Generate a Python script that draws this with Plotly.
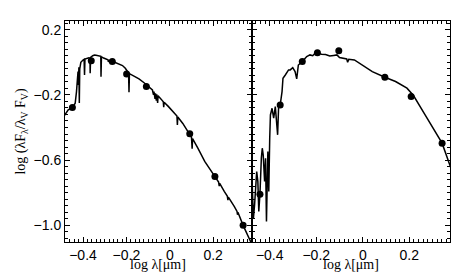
import plotly.graph_objects as go

# Left panel spectrum
left_x = [-0.486, -0.468, -0.449, -0.436, -0.430, -0.425, -0.423, -0.421, -0.419, -0.417, -0.415,
          -0.410, -0.405, -0.400, -0.395, -0.393, -0.391, -0.385, -0.373, -0.368, -0.367, -0.365,
          -0.355, -0.347, -0.340, -0.332, -0.325, -0.318, -0.317, -0.315, -0.305, -0.294, -0.285,
          -0.283, -0.280, -0.265, -0.249, -0.235, -0.218, -0.205, -0.195, -0.190, -0.188, -0.186,
          -0.165, -0.142, -0.120, -0.097, -0.080, -0.075, -0.073, -0.068, -0.066, -0.062, -0.060,
          -0.056, -0.054, -0.051, -0.040, -0.030, -0.028, -0.026, -0.006, 0.010, 0.033, 0.035,
          0.037, 0.060, 0.085, 0.092, 0.100, 0.103, 0.105, 0.130, 0.161, 0.185, 0.208, 0.225,
          0.228, 0.230, 0.251, 0.265, 0.268, 0.270, 0.297, 0.310, 0.312, 0.314, 0.338, 0.365, 0.378]
left_y = [-0.327, -0.292, -0.278, -0.251, -0.180, -0.100, -0.057, -0.140, -0.030, -0.250, -0.040,
          0.000, 0.010, 0.014, 0.018, -0.078, 0.020, 0.024, 0.028, 0.025, -0.067, 0.030,
          0.040, 0.045, 0.043, 0.041, 0.038, 0.036, -0.088, 0.034, 0.026, 0.020, 0.015,
          0.002, 0.012, 0.006, -0.002, -0.010, -0.020, -0.037, -0.057, -0.066, -0.184, -0.070,
          -0.085, -0.102, -0.124, -0.149, -0.170, -0.200, -0.180, -0.225, -0.190, -0.235, -0.197,
          -0.250, -0.205, -0.210, -0.226, -0.242, -0.275, -0.245, -0.272, -0.297, -0.330, -0.384,
          -0.336, -0.375, -0.425, -0.439, -0.460, -0.530, -0.468, -0.528, -0.608, -0.655, -0.700, -0.735,
          -0.760, -0.742, -0.792, -0.820, -0.845, -0.827, -0.884, -0.915, -0.935, -0.920, -1.000, -1.078, -1.115]
left_pts_x = [-0.449, -0.362, -0.265, -0.199, -0.108, 0.092, 0.208, 0.338]
left_pts_y = [-0.278, 0.010, 0.004, -0.072, -0.149, -0.439, -0.700, -1.000]

# Right panel spectrum
right_x = [-0.477, -0.475, -0.470, -0.465, -0.456, -0.451, -0.447, -0.442, -0.436, -0.432, -0.428,
           -0.422, -0.418, -0.414, -0.408, -0.404, -0.400, -0.397, -0.390, -0.383, -0.376, -0.366,
           -0.362, -0.355, -0.347, -0.343, -0.333, -0.319, -0.312, -0.301, -0.291, -0.284, -0.277,
           -0.260, -0.241, -0.227, -0.215, -0.205, -0.195, -0.178, -0.160, -0.150, -0.142, -0.125,
           -0.111, -0.100, -0.085, -0.069, -0.065, -0.060, -0.036, -0.001, 0.041, 0.095, 0.141,
           0.190, 0.218, 0.268, 0.324, 0.341, 0.378]
right_y = [-0.730, -0.761, -0.956, -0.874, -0.670, -0.731, -0.915, -0.809, -0.588, -0.527, -0.568,
           -0.731, -0.588, -0.976, -0.547, -0.792, -0.466, -0.323, -0.282, -0.343, -0.272, -0.445,
           -0.282, -0.262, -0.180, -0.098, -0.078, -0.047, -0.047, -0.033, -0.057, -0.102, -0.017,
           0.004, 0.035, 0.045, 0.040, 0.055, 0.059, 0.049, 0.048, 0.040, 0.038, 0.042,
           0.045, 0.029, 0.025, 0.020, 0.000, 0.018, 0.014, -0.017, -0.057, -0.092, -0.118,
           -0.159, -0.204, -0.323, -0.455, -0.496, -0.645]
right_pts_x = [-0.442, -0.355, -0.260, -0.195, -0.103, 0.095, 0.208, 0.341]
right_pts_y = [-0.809, -0.262, 0.004, 0.059, 0.071, -0.092, -0.210, -0.496]

x_title = "log \u03bb[\u03bcm]"
y_title = "log (\u03bbF<sub>\u03bb</sub>/\u03bb<sub>V</sub> F<sub>V</sub>)"

fig = go.Figure()
line_style = dict(color="black", width=1.5)
mk = dict(color="black", size=7)
fig.add_trace(go.Scatter(x=left_x, y=left_y, mode="lines", line=line_style, xaxis="x", yaxis="y"))
fig.add_trace(go.Scatter(x=left_pts_x, y=left_pts_y, mode="markers", marker=mk, xaxis="x", yaxis="y"))
fig.add_trace(go.Scatter(x=right_x, y=right_y, mode="lines", line=line_style, xaxis="x2", yaxis="y2"))
fig.add_trace(go.Scatter(x=right_pts_x, y=right_pts_y, mode="markers", marker=mk, xaxis="x2", yaxis="y2"))

tickfont = dict(family="Liberation Sans Narrow, Arial Narrow, Liberation Sans, sans-serif", size=14, color="black")
serif = dict(family="Liberation Serif, Times New Roman, serif", size=14, color="black")

split = (241 - 52) / 390.0
common_x = dict(range=[-0.483, 0.377], showgrid=False, zeroline=False, showline=True, linecolor="black",
                linewidth=1, mirror="allticks", ticks="inside", ticklen=5, tickcolor="black",
                tickmode="linear", tick0=0, dtick=0.2, tickfont=tickfont,
                minor=dict(ticks="inside", dtick=0.02, tick0=0, ticklen=3, tickcolor="black", showgrid=False))
common_y = dict(range=[-1.102, 0.253], showgrid=False, zeroline=False, showline=True, linecolor="black",
                linewidth=1, mirror="allticks", ticks="inside", ticklen=5, tickcolor="black",
                tickmode="linear", tick0=0.2, dtick=0.4, tickformat=".1f", tickfont=tickfont,
                minor=dict(ticks="inside", dtick=0.04, tick0=0.2, ticklen=3, tickcolor="black", showgrid=False))

fig.update_layout(
    width=463, height=273,
    margin=dict(l=52, r=21, t=13, b=39),
    paper_bgcolor="white", plot_bgcolor="white",
    showlegend=False,
    xaxis=dict(common_x, domain=[0, split], anchor="y"),
    yaxis=dict(common_y, domain=[0, 1], anchor="x",
               title=dict(text=y_title, font=serif, standoff=4)),
    xaxis2=dict(common_x, range=[-0.478, 0.375], domain=[split, 1], anchor="y2"),
    yaxis2=dict(common_y, domain=[0, 1], anchor="x2", showticklabels=False),
)
for cx in [split / 2, (split + 1) / 2]:
    fig.add_annotation(text=x_title, xref="paper", yref="paper", x=cx, y=-0.10,
                       xanchor="center", yanchor="middle", showarrow=False, font=serif)

fig.write_html("out.html")
